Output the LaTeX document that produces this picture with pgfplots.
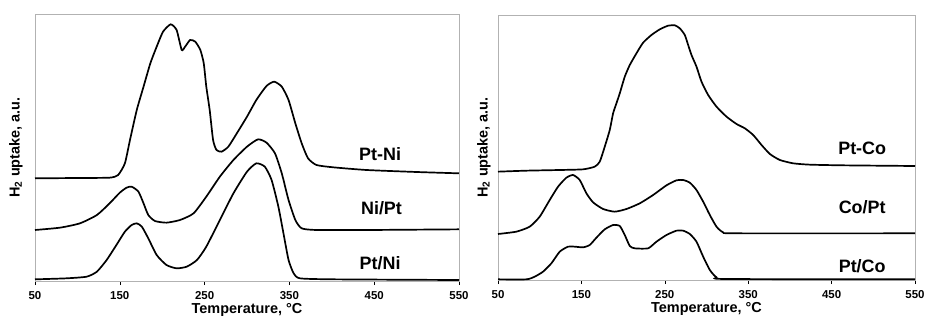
\documentclass[border=0pt]{standalone}
\usepackage{pgfplots}
\pgfplotsset{compat=1.18}
\usepackage{fontspec}
\setmainfont{Liberation Sans}

\pgfplotsset{
 tprstyle/.style={
  scale only axis,
  axis line style={gray!60, line width=0.6pt},
  xmin=50, xmax=550, xtick={50,150,...,550},
  ytick=\empty,
  xtick pos=lower,
  tick align=outside,
  xtick style={black, line width=0.6pt},
  major tick length=4bp,
  tick label style={font=\bfseries\fontsize{11.5}{13}\selectfont},
  /pgf/number format/assume math mode=true,
  xticklabel style={inner sep=0pt, anchor=north, yshift=-6bp},
  xlabel={Temperature, °C},
  xlabel style={at={(axis description cs:0.5,0)}, anchor=north, inner sep=0pt, yshift=-22.5bp},
  ylabel={H\textsubscript{2} uptake, a.u.},
  label style={font=\bfseries\fontsize{14.5}{17}\selectfont},
  no markers,
  every axis plot post/.append style={black, line width=1.7bp, smooth, tension=0.35, mark=none},
  clip=false,
 },
}
\tikzset{curvelabel/.style={font=\bfseries\fontsize{18}{20}\selectfont, inner sep=0pt}}

\begin{document}
\begin{tikzpicture}
\path[use as bounding box] (0,0) rectangle (925bp,327bp);

% ---------------- left panel: Ni ----------------
\begin{axis}[tprstyle,
  at={(35bp,46bp)}, anchor=south west,
  width=424bp, height=267bp,
  ymin=0, ymax=801,
  ylabel style={at={(axis description cs:-0.045,0.5)}, anchor=center, inner sep=0pt},
]
% Pt-Ni
\addplot coordinates {
(50,308) (100,309) (138,310) (148,318) (156,353) (162,423) (170,513) (178,583)
(186,653) (193.5,703) (201,748) (210,770) (217,753) (223,693) (227,703) (233,723)
(239,718) (245,693) (249,653) (252,583) (256,513) (260,423) (264,393) (270,388)
(278,403) (288,443) (300,493) (311,543) (323,585) (332,598) (341,583) (349,543)
(357,473) (364.5,413) (372,368) (382,348) (402,341) (441,333) (500,327) (550,323)
};
% Ni/Pt
\addplot coordinates {
(50,153) (79.5,160) (103,173) (123,198) (138,233) (150,265) (158,280) (164,283)
(172,268) (178,233) (183.6,198) (191.5,180) (205,175) (221,183) (237,203) (252,253)
(268,313) (284,363) (300,403) (313,425) (323,415) (333,383) (341,323) (349,243)
(357,183) (364.5,158) (382,153) (441,153) (550,155)
};
% Pt/Ni
\addplot coordinates {
(50,5) (87,8) (111,13) (123,28) (134.5,63) (146,108) (156,148) (164,168) (170,173)
(176,163) (183.6,128) (193.5,78) (205,48) (217,38) (229,43) (241,63) (252,103)
(268,183) (284,263) (300,328) (311,353) (321,343) (329,303) (337,223) (343,143)
(349,63) (355,23) (362.5,8) (402,5) (550,3)
};
\node[curvelabel] at (axis cs:457,381) {Pt-Ni};
\node[curvelabel] at (axis cs:458.6,218) {Ni/Pt};
\node[curvelabel] at (axis cs:457,53) {Pt/Ni};
\end{axis}

% ---------------- right panel: Co ----------------
\begin{axis}[tprstyle,
  at={(498bp,47bp)}, anchor=south west,
  width=417bp, height=265bp,
  ymin=0, ymax=795,
  ylabel style={at={(axis description cs:-0.034,0.5)}, anchor=center, inner sep=0pt},
]
% Pt-Co
\addplot coordinates {
(50,325) (84,328) (124,330) (152,332) (166,340) (172,355) (178,400) (184,450)
(188,500) (192,530) (196,560) (202,610) (208,645) (216,680) (224,712) (234,735)
(244,752) (254,763) (262,764) (268,755) (274,735) (278,705) (282,675) (288,640)
(294,595) (302,555) (312,520) (324,490) (336,468) (346,455) (356,435) (366,405)
(376,378) (388,360) (404,350) (424,346) (464,344) (550,342)
};
% Co/Pt
\addplot coordinates {
(50,138) (72,145) (88,160) (100,190) (112,240) (122,280) (132,307) (140,315)
(148,300) (156,260) (164,233) (176,213) (190,205) (204,213) (220,230) (236,255)
(252,284) (264,299) (272,300) (280,292) (288,270) (296,235) (304,195) (312,160)
(320,143) (336,140) (550,140)
};
% Pt/Co
\addplot coordinates {
(50,2) (84,2) (94,10) (104,25) (114,50) (124,85) (134,100) (142,100) (152,98)
(160,105) (168,127) (178,152) (188,165) (196,162) (202,135) (208,102) (214,95)
(230,95) (240,115) (252,135) (264,148) (272,148) (280,138) (288,115) (296,70)
(304,30) (312,8) (324,3) (550,2)
};
\node[curvelabel] at (axis cs:486.7,395) {Pt-Co};
\node[curvelabel] at (axis cs:486.7,218) {Co/Pt};
\node[curvelabel] at (axis cs:486.7,40) {Pt/Co};
\end{axis}
\end{tikzpicture}
\end{document}
